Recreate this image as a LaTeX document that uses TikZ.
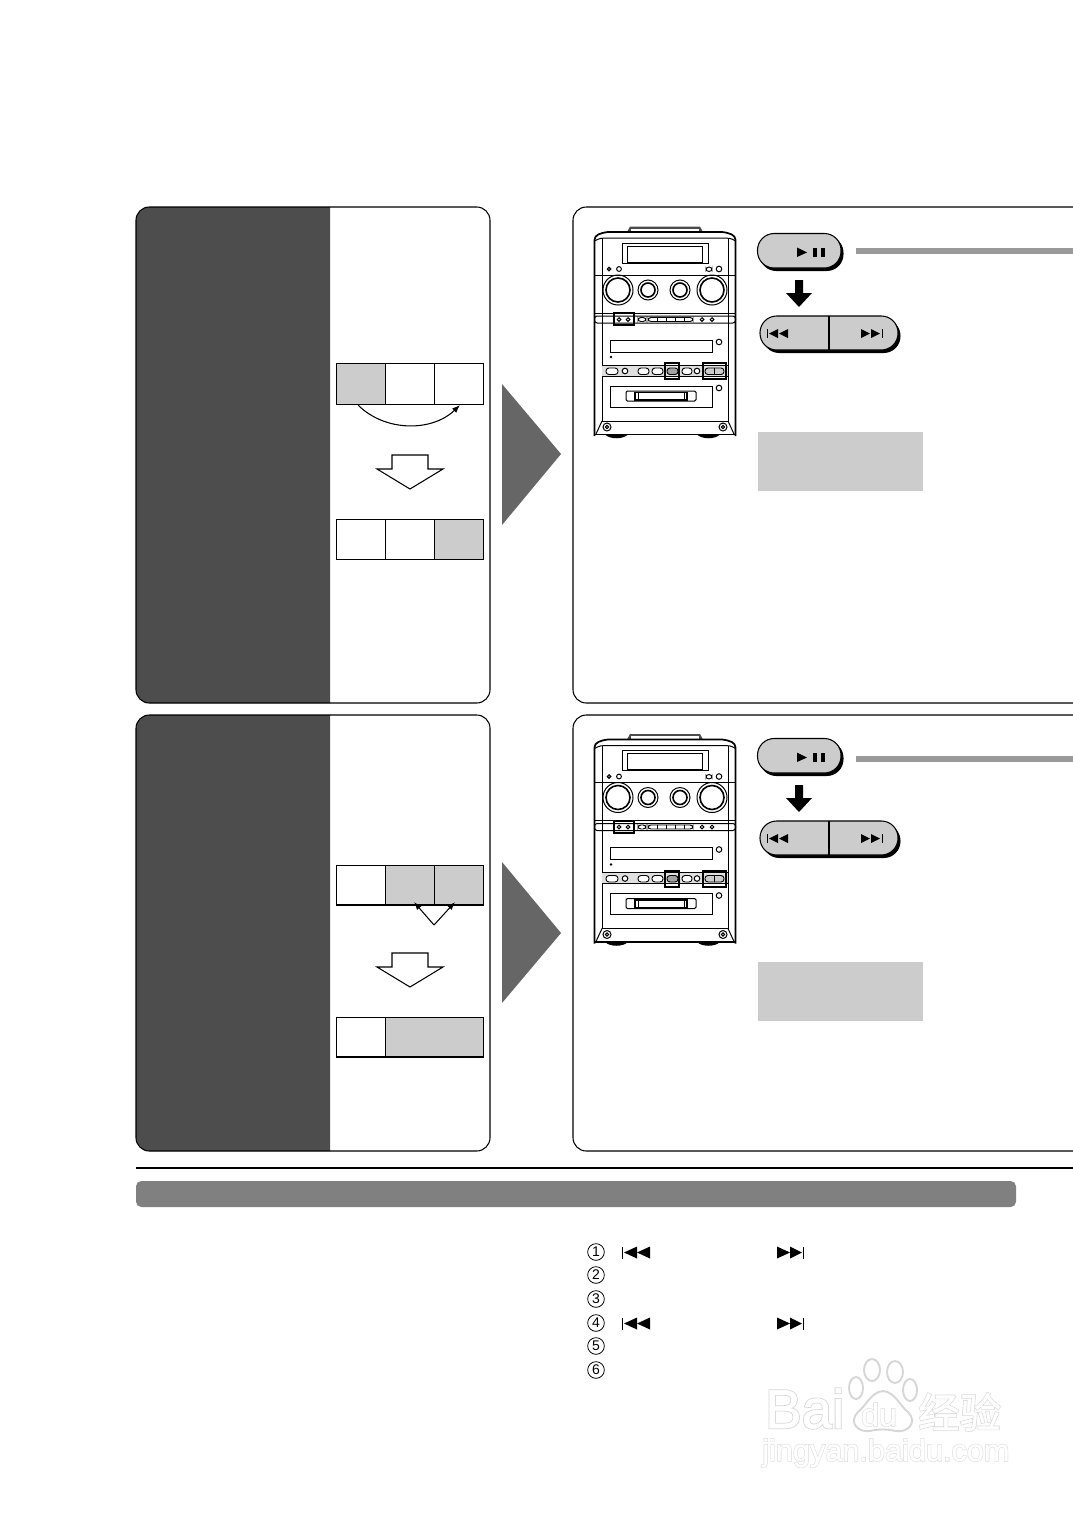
\documentclass[tikz,border=0pt]{standalone}
\usepackage{fontspec}
\usetikzlibrary{calc}
\usetikzlibrary{arrows.meta}
\newfontfamily\latfont{Liberation Sans}
\definecolor{fondsombre}{HTML}{4D4D4D}
\definecolor{gristriangle}{HTML}{666666}
\definecolor{grisclair}{HTML}{CCCCCC}
\definecolor{grisbarre}{HTML}{999999}
\definecolor{grisbande}{HTML}{808080}
\definecolor{marque}{HTML}{D6D6D6}
\tikzset{
  panneau/.style={draw=black,line width=0.8pt,rounded corners=10pt},
  cellule/.style={draw=black,line width=0.8pt},
  fleche/.style={draw=black,line width=0.8pt,-{Latex[length=6pt,width=4.5pt]}},
  trait/.style={draw=black,line width=0.75pt},
  petit/.style={draw=black,line width=0.7pt,rounded corners=2.2pt},
  repere/.style={draw=black,line width=1.5pt},
  caisson/.style={draw=black,line width=1.3pt},
  bouton/.style={fill=grisclair,draw=black,line width=0.8pt,rounded corners=12.5pt},
  ombre/.style={fill=black,rounded corners=12.5pt},
  symb/.style={fill=black},
  chiffre/.style={circle,draw=black,line width=0.6pt,inner sep=0pt,minimum size=12.5pt,font=\latfont\fontsize{10.5}{10.5}\selectfont},
  creux/.style={fill=white,draw=black,line width=0.8pt,line join=miter},
  patte/.style={draw=marque,fill=white,line width=1.4pt},
  marquetxt/.style={inner sep=0pt,anchor=base west,text=marque},
  marqueblanc/.style={inner sep=0pt,anchor=base west,text=white}
}
\begin{document}
\begin{tikzpicture}[x=0.75pt,y=-0.75pt]
\useasboundingbox (0,0) rectangle (1073,1517);
\fill[white] (0,0) rectangle (1073,1517);

%%%%%%%%%%%%%%%%%%%%%%%%
%Panneaux de gauche et de droite
%%%%%%%%%%%%%%%%%%%%%%%%
\foreach \Haut/\Bas in {207/703,715/1151}{
  \fill[fondsombre,rounded corners=10pt] (330,\Haut) -- (136,\Haut) -- (136,\Bas) -- (330,\Bas);
  \draw[panneau] (330,\Haut) -- (136,\Haut) -- (136,\Bas) -- (330,\Bas);
  \draw[panneau] (330,\Haut) -- (490,\Haut) -- (490,\Bas) -- (330,\Bas);
  \draw[panneau] (1073,\Haut) -- (573,\Haut) -- (573,\Bas) -- (1073,\Bas);
}

%%%%%%%%%%%%%%%%%%%%%%%%
%Cases et fleches
%%%%%%%%%%%%%%%%%%%%%%%%
\def \CaseG {336.5}
\def \CaseA {385.5}
\def \CaseB {434.5}
\def \CaseD {483.5}
% premier panneau
\fill[grisclair] (\CaseG,363.5) rectangle (\CaseA,404.5);
\draw[cellule] (\CaseG,363.5) rectangle (\CaseD,404.5) (\CaseA,363.5)--(\CaseA,404.5) (\CaseB,363.5)--(\CaseB,404.5);
\draw[fleche] (358,405) .. controls (385,432) and (432,432) .. (460,405);
\fill[grisclair] (\CaseB,519.5) rectangle (\CaseD,559.5);
\draw[cellule] (\CaseG,519.5) rectangle (\CaseD,559.5) (\CaseA,519.5)--(\CaseA,559.5) (\CaseB,519.5)--(\CaseB,559.5);
% second panneau
\fill[grisclair] (\CaseA,865.5) rectangle (\CaseD,905);
\draw[cellule] (\CaseG,865.5) rectangle (\CaseD,905) (\CaseA,865.5)--(\CaseA,905) (\CaseB,865.5)--(\CaseB,905);
\coordinate (v) at (434,925);
\coordinate (vg) at (414,902);
\coordinate (vd) at (455,902);
\draw[fleche] (v) -- (vg);
\draw[fleche] (v) -- (vd);
\fill[grisclair] (\CaseA,1017.5) rectangle (\CaseD,1057);
\draw[cellule] (\CaseG,1017.5) rectangle (\CaseD,1057) (\CaseA,1017.5)--(\CaseA,1057);
% fleches creuses et triangles
\draw[creux] (392,455) -- (428,455) -- (428,469) -- (443,469) -- (410,489) -- (377,469) -- (392,469) -- cycle;
\draw[creux] (392,953) -- (428,953) -- (428,967) -- (443,967) -- (410,987) -- (377,967) -- (392,967) -- cycle;
\fill[gristriangle] (502,384) -- (561,454) -- (502,525) -- cycle;
\fill[gristriangle] (502,862) -- (561,933) -- (502,1003) -- cycle;

%%%%%%%%%%%%%%%%%%%%%%%%
%Chaine hi-fi
%%%%%%%%%%%%%%%%%%%%%%%%
\foreach \DecalY in {0,507.5}{
\begin{scope}[shift={(0,\DecalY)}]
  % caisson
  \fill[black!70] (627,232) -- (630,226.5) -- (700,226.5) -- (703,232);
  \fill[white] (631,228.5) rectangle (699,232);
  \draw[caisson] (594.5,436) -- (594.5,240) .. controls (594.5,235) and (600,233) .. (608,232) -- (722,232) .. controls (730,233) and (735.5,235) .. (735.5,240) -- (735.5,436);
  \draw[trait] (594.5,241) .. controls (600,238) and (602,238) .. (606,238) -- (724,238) .. controls (728,238) and (731,238) .. (735.5,241);
  \draw[trait] (602,238) -- (602,421) (728,238) -- (728,421);
  \draw[trait] (622,243) rectangle (708,263);
  \draw[trait] (627,246) rectangle (702,262);
  \filldraw[trait,fill=gray] (609,269) circle (1.8);
  \draw[trait] (619,269) circle (2.4);
  \draw[petit] (706,267) rectangle (712,271.5);
  \draw[trait] (719,269) circle (2.8);
  \draw[trait] (594.5,275) -- (735.5,275);
  % boutons tournants
  \foreach \Cx/\Rayon in {618/15,712/15,648/10,680/10}{
    \draw[trait] (\Cx,290) circle (\Rayon);
    \draw[trait,line width=1.2pt] (\Cx,290) circle (\Rayon-3);
  }
  % bandeau
  \draw[trait] (594.5,313) -- (735.5,313);
  \draw[trait,rounded corners=2pt] (594.5,316) rectangle (735.5,323);
  \foreach \Cx in {619,628,702,712}{\draw[trait] (\Cx,319.5) circle (1.8);}
  \draw[petit] (638,317.5) rectangle (646,321.5);
  \draw[petit] (648,317.5) rectangle (693,321.5);
  \foreach \Cx in {657,666,675,684}{\draw[trait] (\Cx,317.5) -- (\Cx,321.5);}
  \draw[repere] (614,313) rectangle (634,325);
  % lecteur de disque
  \draw[trait] (610,340) rectangle (712,352);
  \draw[trait] (719,342) circle (2.8);
  \fill (611,357) circle (1.3);
  \fill[grisclair!60] (602,365) rectangle (728,376);
  \draw[trait] (602,365) -- (728,365) (602,376) -- (728,376);
  \filldraw[petit,fill=white] (606,368) rectangle (618,374.5);
  \filldraw[trait,fill=white] (625,371) circle (2.8);
  \filldraw[petit,fill=white] (638,368) rectangle (649,374.5);
  \filldraw[petit,fill=white] (652,368) rectangle (663,374.5);
  \draw[petit,fill=grisclair!80!black] (667,368) rectangle (678,374.5);
  \filldraw[petit,fill=white] (682,368) rectangle (692,374.5);
  \filldraw[trait,fill=white] (697,371) circle (2.8);
  \draw[petit,fill=grisclair] (705,368) rectangle (724,374.5);
  \draw[trait] (714.5,368) -- (714.5,374.5);
  \draw[repere] (665,363) rectangle (679,379);
  \draw[repere] (703,363) rectangle (726,379);
  % cassette
  \draw[trait] (610,386) rectangle (712,407);
  \draw[trait] (719,388) circle (2.8);
  \draw[trait,rounded corners=1pt] (626,391) rectangle (696,401);
  \draw[trait,line width=1.2pt] (635,392.5) rectangle (687,400);
  \draw[trait] (638,392.5) -- (638,400) (684,392.5) -- (684,400);
  % socle
  \draw[trait] (602,421) -- (728,421);
  \draw[trait] (602,421) -- (596,434) (728,421) -- (734,434);
  \draw[caisson] (594.5,434.5) -- (735.5,434.5);
  \foreach \Cx in {607,723}{
    \draw[trait] (\Cx,427) circle (4);
    \draw[trait] (\Cx,427) circle (1.6);
  }
  \fill (605,434.5) .. controls (610,439.5) and (623,439.5) .. (628,434.5) -- cycle;
  \fill (697,434.5) .. controls (702,439.5) and (715,439.5) .. (720,434.5) -- cycle;
\end{scope}
}

%%%%%%%%%%%%%%%%%%%%%%%%
%Touches de commande
%%%%%%%%%%%%%%%%%%%%%%%%
\foreach \DecalB/\DecalG in {0/0,505/508}{
\begin{scope}[shift={(0,\DecalB)}]
  \fill[ombre] (759.5,236) rectangle (843.5,271);
  \draw[bouton] (757.5,233.5) rectangle (841,268);
  \fill[symb] (797,247.5) -- (807,252.5) -- (797,257) -- cycle;
  \fill[symb] (813,248) rectangle (817,257);
  \fill[symb] (821,248) rectangle (825,257);
  % fleche noire
  \fill[symb] (795,280) -- (803,280) -- (803,293) -- (812,293) -- (799,307) -- (786,293) -- (795,293) -- cycle;
  \fill[ombre] (762.5,319) rectangle (900.5,353);
  \draw[bouton] (760,316) rectangle (898,350);
  \draw[trait,line width=0.8pt] (829,316) -- (829,350);
  \fill[symb] (778,329) -- (769,333.5) -- (778,338) -- cycle;
  \fill[symb] (788,329) -- (779,333.5) -- (788,338) -- cycle;
  \draw[trait] (767,329) -- (767,338);
  \fill[symb] (861,329) -- (870,333.5) -- (861,338) -- cycle;
  \fill[symb] (871,329) -- (880,333.5) -- (871,338) -- cycle;
  \draw[trait] (882,329) -- (882,338);
\end{scope}
\fill[grisbarre] (856,248+\DecalG) rectangle (1073,254+\DecalG);
}
\fill[grisclair] (758,432) rectangle (923,491);
\fill[grisclair] (758,962) rectangle (923,1021);

%%%%%%%%%%%%%%%%%%%%%%%%
%Bas de page
%%%%%%%%%%%%%%%%%%%%%%%%
\draw[black,line width=1.2pt] (136,1168) -- (1073,1168);
\fill[grisbande,rounded corners=4pt] (136,1181) rectangle (1016,1207);

\node[chiffre] (un) at (596,1252) {1};
\node[chiffre] (deux) at (596,1275) {2};
\node[chiffre] (trois) at (596,1299) {3};
\node[chiffre] (quatre) at (596,1323) {4};
\node[chiffre] (cinq) at (596,1346) {5};
\node[chiffre] (six) at (596,1370) {6};
\foreach \Ligne in {1252.5,1323.5}{
  \draw[trait] (622.7,\Ligne-6) -- (622.7,\Ligne+6);
  \fill[symb] (637,\Ligne-6) -- (624,\Ligne) -- (637,\Ligne+6) -- cycle;
  \fill[symb] (650,\Ligne-6) -- (637,\Ligne) -- (650,\Ligne+6) -- cycle;
  \fill[symb] (777,\Ligne-6) -- (790,\Ligne) -- (777,\Ligne+6) -- cycle;
  \fill[symb] (790,\Ligne-6) -- (802,\Ligne) -- (790,\Ligne+6) -- cycle;
  \draw[trait] (803.5,\Ligne-6) -- (803.5,\Ligne+6);
}

%%%%%%%%%%%%%%%%%%%%%%%%
%Filigrane
%%%%%%%%%%%%%%%%%%%%%%%%
\foreach \Cx/\Cy/\Rx/\Ry in {856/1388/7/11,872/1370/8/11,895/1372/8/11,910/1390/7/11}{
  \draw[patte] (\Cx,\Cy) ellipse ({\Rx*0.75pt} and {\Ry*0.75pt});
}
\draw[patte] (883,1391) .. controls (895,1392) and (900,1406) .. (908,1412) .. controls (918,1422) and (908,1433) .. (896,1431) .. controls (887,1429) and (878,1429) .. (870,1431) .. controls (858,1433) and (848,1422) .. (858,1412) .. controls (866,1406) and (871,1392) .. (883,1391) -- cycle;
\foreach \Teinte/\Gras in {marquetxt/4,marqueblanc/1}{
  \newfontfamily\wmlat[FakeBold=\Gras]{Liberation Sans}
  \newfontfamily\wmcjk[FakeBold=\Gras]{Noto Sans CJK SC}
  \node[\Teinte,font=\wmlat\fontsize{41}{41}\selectfont] (bai) at (765,1428) {Bai};
  \node[\Teinte,font=\wmlat\fontsize{24}{24}\selectfont] (du) at (861,1426) {du};
  \node[\Teinte,font=\wmcjk\fontsize{31}{31}\selectfont] (jy) at (918,1428) {经验};
  \node[\Teinte,font=\wmlat\fontsize{23}{23}\selectfont] (site) at (762,1461) {jingyan.baidu.com};
}
\end{tikzpicture}
\end{document}
